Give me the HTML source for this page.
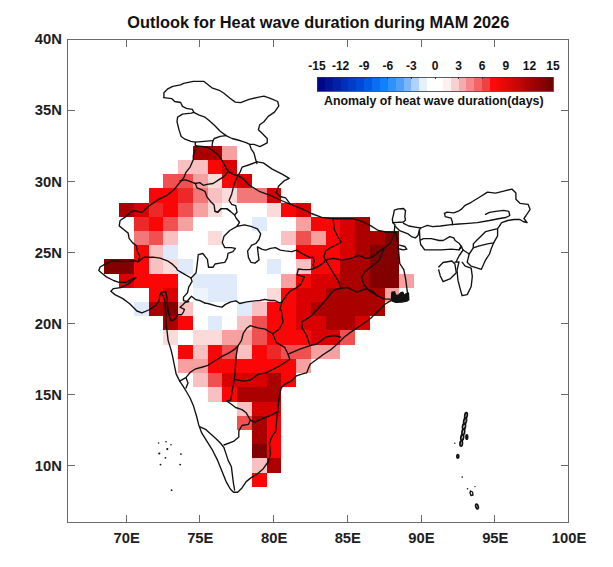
<!DOCTYPE html>
<html><head><meta charset="utf-8"><style>
html,body{margin:0;padding:0;background:#fff;}
body{width:613px;height:567px;overflow:hidden;}
svg{display:block;}
</style></head><body>
<svg width="613" height="567" viewBox="0 0 613 567">
<defs><filter id="sb" x="-2%" y="-2%" width="104%" height="104%"><feGaussianBlur stdDeviation="0.45"/></filter></defs>
<rect width="613" height="567" fill="#fff"/>
<g>
<g shape-rendering="crispEdges">
<rect x="192.95" y="145.77" width="14.75" height="14.21" fill="#aa0000"/>
<rect x="207.70" y="145.77" width="14.75" height="14.21" fill="#aa0000"/>
<rect x="222.44" y="145.77" width="14.75" height="14.21" fill="#f6a0a0"/>
<rect x="178.20" y="159.97" width="14.75" height="14.21" fill="#f8c0c0"/>
<rect x="192.95" y="159.97" width="14.75" height="14.21" fill="#f8c0c0"/>
<rect x="207.70" y="159.97" width="14.75" height="14.21" fill="#fa0606"/>
<rect x="222.44" y="159.97" width="14.75" height="14.21" fill="#d80000"/>
<rect x="163.46" y="174.18" width="14.75" height="14.21" fill="#f05050"/>
<rect x="178.20" y="174.18" width="14.75" height="14.21" fill="#f05050"/>
<rect x="192.95" y="174.18" width="14.75" height="14.21" fill="#f6a0a0"/>
<rect x="207.70" y="174.18" width="14.75" height="14.21" fill="#fbdada"/>
<rect x="222.44" y="174.18" width="14.75" height="14.21" fill="#fa0606"/>
<rect x="237.19" y="174.18" width="14.75" height="14.21" fill="#d80000"/>
<rect x="148.71" y="188.39" width="14.75" height="14.21" fill="#fa0606"/>
<rect x="163.46" y="188.39" width="14.75" height="14.21" fill="#fa0606"/>
<rect x="178.20" y="188.39" width="14.75" height="14.21" fill="#ee2828"/>
<rect x="192.95" y="188.39" width="14.75" height="14.21" fill="#f27878"/>
<rect x="207.70" y="188.39" width="14.75" height="14.21" fill="#f8c0c0"/>
<rect x="222.44" y="188.39" width="14.75" height="14.21" fill="#fbdada"/>
<rect x="237.19" y="188.39" width="14.75" height="14.21" fill="#f27878"/>
<rect x="251.94" y="188.39" width="14.75" height="14.21" fill="#f27878"/>
<rect x="266.69" y="188.39" width="14.75" height="14.21" fill="#d80000"/>
<rect x="119.21" y="202.60" width="14.75" height="14.21" fill="#aa0000"/>
<rect x="133.96" y="202.60" width="14.75" height="14.21" fill="#d80000"/>
<rect x="148.71" y="202.60" width="14.75" height="14.21" fill="#ee2828"/>
<rect x="163.46" y="202.60" width="14.75" height="14.21" fill="#fa0606"/>
<rect x="178.20" y="202.60" width="14.75" height="14.21" fill="#f05050"/>
<rect x="192.95" y="202.60" width="14.75" height="14.21" fill="#f6a0a0"/>
<rect x="207.70" y="202.60" width="14.75" height="14.21" fill="#fbdada"/>
<rect x="266.69" y="202.60" width="14.75" height="14.21" fill="#fbdada"/>
<rect x="281.43" y="202.60" width="14.75" height="14.21" fill="#fa0606"/>
<rect x="296.18" y="202.60" width="14.75" height="14.21" fill="#d80000"/>
<rect x="133.96" y="216.81" width="14.75" height="14.21" fill="#ee2828"/>
<rect x="148.71" y="216.81" width="14.75" height="14.21" fill="#fa0606"/>
<rect x="163.46" y="216.81" width="14.75" height="14.21" fill="#f05050"/>
<rect x="178.20" y="216.81" width="14.75" height="14.21" fill="#f6a0a0"/>
<rect x="251.94" y="216.81" width="14.75" height="14.21" fill="#dfeafa"/>
<rect x="296.18" y="216.81" width="14.75" height="14.21" fill="#f6a0a0"/>
<rect x="310.93" y="216.81" width="14.75" height="14.21" fill="#fa0606"/>
<rect x="325.67" y="216.81" width="14.75" height="14.21" fill="#fa0606"/>
<rect x="340.42" y="216.81" width="14.75" height="14.21" fill="#d80000"/>
<rect x="355.17" y="216.81" width="14.75" height="14.21" fill="#aa0000"/>
<rect x="133.96" y="231.02" width="14.75" height="14.21" fill="#f27878"/>
<rect x="148.71" y="231.02" width="14.75" height="14.21" fill="#f05050"/>
<rect x="163.46" y="231.02" width="14.75" height="14.21" fill="#f8c0c0"/>
<rect x="207.70" y="231.02" width="14.75" height="14.21" fill="#fbdada"/>
<rect x="281.43" y="231.02" width="14.75" height="14.21" fill="#f8c0c0"/>
<rect x="296.18" y="231.02" width="14.75" height="14.21" fill="#f05050"/>
<rect x="310.93" y="231.02" width="14.75" height="14.21" fill="#f6a0a0"/>
<rect x="325.67" y="231.02" width="14.75" height="14.21" fill="#fa0606"/>
<rect x="340.42" y="231.02" width="14.75" height="14.21" fill="#d80000"/>
<rect x="355.17" y="231.02" width="14.75" height="14.21" fill="#aa0000"/>
<rect x="369.91" y="231.02" width="14.75" height="14.21" fill="#aa0000"/>
<rect x="384.66" y="231.02" width="14.75" height="14.21" fill="#820000"/>
<rect x="133.96" y="245.23" width="14.75" height="14.21" fill="#fa0606"/>
<rect x="148.71" y="245.23" width="14.75" height="14.21" fill="#f8c0c0"/>
<rect x="163.46" y="245.23" width="14.75" height="14.21" fill="#dfeafa"/>
<rect x="296.18" y="245.23" width="14.75" height="14.21" fill="#fa0606"/>
<rect x="310.93" y="245.23" width="14.75" height="14.21" fill="#fa0606"/>
<rect x="325.67" y="245.23" width="14.75" height="14.21" fill="#fa0606"/>
<rect x="340.42" y="245.23" width="14.75" height="14.21" fill="#d80000"/>
<rect x="355.17" y="245.23" width="14.75" height="14.21" fill="#aa0000"/>
<rect x="369.91" y="245.23" width="14.75" height="14.21" fill="#820000"/>
<rect x="384.66" y="245.23" width="14.75" height="14.21" fill="#820000"/>
<rect x="104.47" y="259.44" width="14.75" height="14.21" fill="#820000"/>
<rect x="119.21" y="259.44" width="14.75" height="14.21" fill="#820000"/>
<rect x="133.96" y="259.44" width="14.75" height="14.21" fill="#fa0606"/>
<rect x="148.71" y="259.44" width="14.75" height="14.21" fill="#f8c0c0"/>
<rect x="163.46" y="259.44" width="14.75" height="14.21" fill="#fbdada"/>
<rect x="178.20" y="259.44" width="14.75" height="14.21" fill="#dfeafa"/>
<rect x="266.69" y="259.44" width="14.75" height="14.21" fill="#dfeafa"/>
<rect x="296.18" y="259.44" width="14.75" height="14.21" fill="#f8c0c0"/>
<rect x="310.93" y="259.44" width="14.75" height="14.21" fill="#fa0606"/>
<rect x="325.67" y="259.44" width="14.75" height="14.21" fill="#fa0606"/>
<rect x="340.42" y="259.44" width="14.75" height="14.21" fill="#aa0000"/>
<rect x="355.17" y="259.44" width="14.75" height="14.21" fill="#aa0000"/>
<rect x="369.91" y="259.44" width="14.75" height="14.21" fill="#820000"/>
<rect x="384.66" y="259.44" width="14.75" height="14.21" fill="#820000"/>
<rect x="119.21" y="273.65" width="14.75" height="14.21" fill="#d80000"/>
<rect x="133.96" y="273.65" width="14.75" height="14.21" fill="#fa0606"/>
<rect x="148.71" y="273.65" width="14.75" height="14.21" fill="#fa0606"/>
<rect x="163.46" y="273.65" width="14.75" height="14.21" fill="#fa0606"/>
<rect x="192.95" y="273.65" width="14.75" height="14.21" fill="#dfeafa"/>
<rect x="207.70" y="273.65" width="14.75" height="14.21" fill="#dfeafa"/>
<rect x="222.44" y="273.65" width="14.75" height="14.21" fill="#dfeafa"/>
<rect x="281.43" y="273.65" width="14.75" height="14.21" fill="#f6a0a0"/>
<rect x="296.18" y="273.65" width="14.75" height="14.21" fill="#fa0606"/>
<rect x="310.93" y="273.65" width="14.75" height="14.21" fill="#d80000"/>
<rect x="325.67" y="273.65" width="14.75" height="14.21" fill="#d80000"/>
<rect x="340.42" y="273.65" width="14.75" height="14.21" fill="#aa0000"/>
<rect x="355.17" y="273.65" width="14.75" height="14.21" fill="#aa0000"/>
<rect x="369.91" y="273.65" width="14.75" height="14.21" fill="#820000"/>
<rect x="384.66" y="273.65" width="14.75" height="14.21" fill="#820000"/>
<rect x="399.41" y="273.65" width="14.75" height="14.21" fill="#f6a0a0"/>
<rect x="148.71" y="287.85" width="14.75" height="14.21" fill="#fa0606"/>
<rect x="163.46" y="287.85" width="14.75" height="14.21" fill="#d80000"/>
<rect x="192.95" y="287.85" width="14.75" height="14.21" fill="#eef4fc"/>
<rect x="207.70" y="287.85" width="14.75" height="14.21" fill="#dfeafa"/>
<rect x="222.44" y="287.85" width="14.75" height="14.21" fill="#dfeafa"/>
<rect x="266.69" y="287.85" width="14.75" height="14.21" fill="#fbdada"/>
<rect x="281.43" y="287.85" width="14.75" height="14.21" fill="#fa0606"/>
<rect x="296.18" y="287.85" width="14.75" height="14.21" fill="#d80000"/>
<rect x="310.93" y="287.85" width="14.75" height="14.21" fill="#d80000"/>
<rect x="325.67" y="287.85" width="14.75" height="14.21" fill="#aa0000"/>
<rect x="340.42" y="287.85" width="14.75" height="14.21" fill="#aa0000"/>
<rect x="355.17" y="287.85" width="14.75" height="14.21" fill="#aa0000"/>
<rect x="369.91" y="287.85" width="14.75" height="14.21" fill="#aa0000"/>
<rect x="384.66" y="287.85" width="14.75" height="14.21" fill="#f6a0a0"/>
<rect x="133.96" y="302.06" width="14.75" height="14.21" fill="#dfeafa"/>
<rect x="148.71" y="302.06" width="14.75" height="14.21" fill="#aa0000"/>
<rect x="163.46" y="302.06" width="14.75" height="14.21" fill="#820000"/>
<rect x="178.20" y="302.06" width="14.75" height="14.21" fill="#f8c0c0"/>
<rect x="237.19" y="302.06" width="14.75" height="14.21" fill="#dfeafa"/>
<rect x="251.94" y="302.06" width="14.75" height="14.21" fill="#f8c0c0"/>
<rect x="266.69" y="302.06" width="14.75" height="14.21" fill="#fa0606"/>
<rect x="281.43" y="302.06" width="14.75" height="14.21" fill="#fa0606"/>
<rect x="296.18" y="302.06" width="14.75" height="14.21" fill="#d80000"/>
<rect x="310.93" y="302.06" width="14.75" height="14.21" fill="#aa0000"/>
<rect x="325.67" y="302.06" width="14.75" height="14.21" fill="#aa0000"/>
<rect x="340.42" y="302.06" width="14.75" height="14.21" fill="#aa0000"/>
<rect x="355.17" y="302.06" width="14.75" height="14.21" fill="#aa0000"/>
<rect x="369.91" y="302.06" width="14.75" height="14.21" fill="#aa0000"/>
<rect x="163.46" y="316.27" width="14.75" height="14.21" fill="#aa0000"/>
<rect x="178.20" y="316.27" width="14.75" height="14.21" fill="#fa0606"/>
<rect x="207.70" y="316.27" width="14.75" height="14.21" fill="#dfeafa"/>
<rect x="237.19" y="316.27" width="14.75" height="14.21" fill="#f8c0c0"/>
<rect x="251.94" y="316.27" width="14.75" height="14.21" fill="#f05050"/>
<rect x="266.69" y="316.27" width="14.75" height="14.21" fill="#fa0606"/>
<rect x="281.43" y="316.27" width="14.75" height="14.21" fill="#fa0606"/>
<rect x="296.18" y="316.27" width="14.75" height="14.21" fill="#d80000"/>
<rect x="310.93" y="316.27" width="14.75" height="14.21" fill="#d80000"/>
<rect x="325.67" y="316.27" width="14.75" height="14.21" fill="#aa0000"/>
<rect x="340.42" y="316.27" width="14.75" height="14.21" fill="#aa0000"/>
<rect x="355.17" y="316.27" width="14.75" height="14.21" fill="#d80000"/>
<rect x="163.46" y="330.48" width="14.75" height="14.21" fill="#fbdada"/>
<rect x="192.95" y="330.48" width="14.75" height="14.21" fill="#fbdada"/>
<rect x="207.70" y="330.48" width="14.75" height="14.21" fill="#fbdada"/>
<rect x="222.44" y="330.48" width="14.75" height="14.21" fill="#f6a0a0"/>
<rect x="237.19" y="330.48" width="14.75" height="14.21" fill="#f6a0a0"/>
<rect x="251.94" y="330.48" width="14.75" height="14.21" fill="#f05050"/>
<rect x="266.69" y="330.48" width="14.75" height="14.21" fill="#fa0606"/>
<rect x="281.43" y="330.48" width="14.75" height="14.21" fill="#fa0606"/>
<rect x="296.18" y="330.48" width="14.75" height="14.21" fill="#fa0606"/>
<rect x="310.93" y="330.48" width="14.75" height="14.21" fill="#d80000"/>
<rect x="325.67" y="330.48" width="14.75" height="14.21" fill="#d80000"/>
<rect x="340.42" y="330.48" width="14.75" height="14.21" fill="#f05050"/>
<rect x="178.20" y="344.69" width="14.75" height="14.21" fill="#fa0606"/>
<rect x="192.95" y="344.69" width="14.75" height="14.21" fill="#f8c0c0"/>
<rect x="207.70" y="344.69" width="14.75" height="14.21" fill="#fa0606"/>
<rect x="222.44" y="344.69" width="14.75" height="14.21" fill="#f05050"/>
<rect x="237.19" y="344.69" width="14.75" height="14.21" fill="#f8c0c0"/>
<rect x="251.94" y="344.69" width="14.75" height="14.21" fill="#fa0606"/>
<rect x="266.69" y="344.69" width="14.75" height="14.21" fill="#ee2828"/>
<rect x="281.43" y="344.69" width="14.75" height="14.21" fill="#f05050"/>
<rect x="296.18" y="344.69" width="14.75" height="14.21" fill="#f05050"/>
<rect x="310.93" y="344.69" width="14.75" height="14.21" fill="#f6a0a0"/>
<rect x="325.67" y="344.69" width="14.75" height="14.21" fill="#f6a0a0"/>
<rect x="178.20" y="358.90" width="14.75" height="14.21" fill="#f6a0a0"/>
<rect x="192.95" y="358.90" width="14.75" height="14.21" fill="#f6a0a0"/>
<rect x="207.70" y="358.90" width="14.75" height="14.21" fill="#fa0606"/>
<rect x="222.44" y="358.90" width="14.75" height="14.21" fill="#fa0606"/>
<rect x="237.19" y="358.90" width="14.75" height="14.21" fill="#fa0606"/>
<rect x="251.94" y="358.90" width="14.75" height="14.21" fill="#fa0606"/>
<rect x="266.69" y="358.90" width="14.75" height="14.21" fill="#fa0606"/>
<rect x="281.43" y="358.90" width="14.75" height="14.21" fill="#fa0606"/>
<rect x="296.18" y="358.90" width="14.75" height="14.21" fill="#f6a0a0"/>
<rect x="192.95" y="373.11" width="14.75" height="14.21" fill="#f8c0c0"/>
<rect x="207.70" y="373.11" width="14.75" height="14.21" fill="#f05050"/>
<rect x="222.44" y="373.11" width="14.75" height="14.21" fill="#d80000"/>
<rect x="237.19" y="373.11" width="14.75" height="14.21" fill="#d80000"/>
<rect x="251.94" y="373.11" width="14.75" height="14.21" fill="#d80000"/>
<rect x="266.69" y="373.11" width="14.75" height="14.21" fill="#aa0000"/>
<rect x="281.43" y="373.11" width="14.75" height="14.21" fill="#fa0606"/>
<rect x="207.70" y="387.32" width="14.75" height="14.21" fill="#f8c0c0"/>
<rect x="222.44" y="387.32" width="14.75" height="14.21" fill="#fa0606"/>
<rect x="237.19" y="387.32" width="14.75" height="14.21" fill="#aa0000"/>
<rect x="251.94" y="387.32" width="14.75" height="14.21" fill="#aa0000"/>
<rect x="266.69" y="387.32" width="14.75" height="14.21" fill="#aa0000"/>
<rect x="237.19" y="401.52" width="14.75" height="14.21" fill="#f8c0c0"/>
<rect x="251.94" y="401.52" width="14.75" height="14.21" fill="#d80000"/>
<rect x="266.69" y="401.52" width="14.75" height="14.21" fill="#d80000"/>
<rect x="237.19" y="415.73" width="14.75" height="14.21" fill="#f05050"/>
<rect x="251.94" y="415.73" width="14.75" height="14.21" fill="#aa0000"/>
<rect x="266.69" y="415.73" width="14.75" height="14.21" fill="#fa0606"/>
<rect x="251.94" y="429.94" width="14.75" height="14.21" fill="#aa0000"/>
<rect x="266.69" y="429.94" width="14.75" height="14.21" fill="#fa0606"/>
<rect x="251.94" y="444.15" width="14.75" height="14.21" fill="#820000"/>
<rect x="266.69" y="444.15" width="14.75" height="14.21" fill="#fa0606"/>
<rect x="251.94" y="458.36" width="14.75" height="14.21" fill="#f8c0c0"/>
<rect x="266.69" y="458.36" width="14.75" height="14.21" fill="#aa0000"/>
<rect x="251.94" y="472.57" width="14.75" height="14.21" fill="#fa0606"/>
</g>
<g fill="none" stroke="#111" stroke-width="1.35" stroke-linejoin="round" stroke-linecap="round">
<path d="M163.9,97.6 L163.9,92.7 L167.8,88.8 L172.7,86.3 L180.6,84.9 L183.5,83.4 L193.3,81.4 L204.0,81.4 L211.9,87.8 L220.0,90.7 L223.6,93.0 L230.0,98.3 L235.3,102.1 L240.6,102.6 L249.1,99.4 L257.6,97.3 L263.9,96.2 L270.3,98.3 L277.7,101.5 L278.8,105.8 L274.5,112.1 L268.2,116.4 L263.9,121.7 L259.7,124.8 L258.4,129.7 L261.3,132.6 L267.2,138.5 L267.2,142.9 L259.9,146.6 L254.0,144.4 L249.6,144.4"/>
<path d="M163.9,97.6 L171.7,98.6 L174.7,101.5 L180.6,102.5 L182.5,106.4 L186.4,108.3 L192.3,109.3 L193.8,112.3 L191.3,113.2 L182.5,114.2 L177.6,117.2 L177.0,121.7 L179.1,130.1 L181.2,136.5 L185.0,139.2 L190.9,141.4 L195.3,142.2 L195.3,145.8"/>
<path d="M193.8,112.3 L199.2,115.2 L205.0,117.2 L208.5,120.1 L214.4,125.3 L220.2,131.2 L226.1,135.6 L232.0,138.5 L237.9,140.0 L242.3,141.4 L246.7,142.9 L249.6,144.4 L251.1,148.8 L254.0,153.2 L255.5,159.0 L256.9,163.5"/>
<path d="M226.1,135.6 L220.2,136.3 L214.4,138.5 L212.9,140.7 L212.2,144.4 L212.2,146.6"/>
<path d="M195.3,142.2 L212.9,140.7"/>
<path d="M196.5,145.9 L193.3,155.4 L193.3,159.7 L190.1,167.1 L185.9,172.4 L183.8,177.7 L178.5,184.1 L174.2,189.4 L166.8,195.4 L157.8,199.9 L148.8,206.1 L141.7,212.4 L134.5,210.6 L130.0,212.4 L125.5,216.9 L120.1,220.5 L119.2,225.9 L123.7,229.5 L128.2,233.1 L129.1,238.4 L132.7,242.9 L136.3,245.6 L137.2,251.0 L139.9,256.4 L138.1,261.8 L135.1,260.8"/>
<path d="M135.1,260.8 L124.3,261.7 L111.7,260.8 L104.6,264.4 L100.1,267.0 L98.8,270.6 L101.9,273.3 L106.4,276.9 L113.5,280.5 L118.9,282.3 L126.1,282.3 L132.4,278.7 L136.0,277.8 L127.9,284.1 L120.7,287.7 L113.5,288.6 L110.8,291.3 L115.3,294.9 L122.5,298.4 L129.7,303.8 L136.9,311.0 L141.9,312.8 L148.7,310.0 L155.6,305.4 L159.0,300.8 L159.6,296.3 L161.3,292.3 L165.8,291.7 L167.0,298.5 L167.6,307.6 L169.4,316.5 L171.2,320.9 L173.8,320.0 L176.5,316.5 L178.2,314.7 L181.7,314.7 L183.5,312.0 L184.4,309.4 L180.0,307.2 L182.6,305.0 L185.3,302.3 L188.8,301.5"/>
<path d="M161.5,293.5 L163.5,297.0 L165.0,300.6 L165.4,307.6 L165.9,316.5 L166.3,325.3 L167.2,332.3 L168.1,340.0"/>
<path d="M138.1,261.8 L144.0,257.2 L153.0,257.2 L160.2,258.1 L167.4,260.8 L172.7,264.4 L176.3,267.9 L177.3,270.0 L183.0,273.4 L191.0,278.0 L192.1,281.4 L188.7,287.1 L187.5,292.8 L183.5,297.1 L183.5,300.6 L187.0,301.5 L191.4,296.2 L195.9,299.7 L200.0,300.6 L205.0,303.1"/>
<path d="M196.5,145.9 L207.1,147.0 L212.4,150.1 L218.8,155.4 L223.0,161.8 L226.2,168.2 L228.3,171.4 L233.6,174.5 L237.9,175.6"/>
<path d="M180.0,180.8 L185.4,179.9 L190.8,181.7 L195.3,183.5 L199.7,182.6 L203.3,185.3 L206.9,184.4 L213.2,183.5 L218.6,179.9 L223.1,177.2 L226.7,173.6 L228.4,170.0"/>
<path d="M195.3,183.5 L197.0,187.9 L201.5,189.7 L205.1,191.5 L206.9,196.9 L210.5,201.4 L214.1,205.0 L215.0,211.3 L217.7,212.2 L221.3,208.6 L226.7,208.6 L230.2,211.3"/>
<path d="M257.0,161.8 L263.3,162.9 L272.2,169.1 L282.6,174.4 L289.2,178.3 L284.0,180.9 L278.7,186.1 L276.1,192.6 L280.0,196.5 L285.6,197.9 L290.5,204.4"/>
<path d="M257.0,161.8 L248.5,165.0 L242.1,167.1 L240.0,172.4 L237.9,175.6"/>
<path d="M237.9,175.6 L243.2,178.8 L248.7,184.8 L259.2,191.3 L269.6,195.2 L281.3,200.5 L290.5,204.4 L300.9,208.3 L311.4,213.5 L321.8,217.4 L332.2,218.7 L342.7,218.7 L353.1,218.7 L362.6,221.6 L370.5,225.6 L378.3,230.5 L386.0,232.0 L395.9,232.4"/>
<path d="M237.9,175.6 L234.4,183.5 L231.7,193.9 L229.1,200.5 L231.7,204.4 L235.7,205.7 L237.0,212.2 L234.6,215.0 L236.2,218.3 L239.5,222.3 L237.0,226.4 L244.4,224.8 L250.9,226.4 L257.4,228.9 L260.7,233.8 L259.0,239.5 L255.8,243.5 L251.7,245.2 L250.1,247.6 L247.6,250.9 L248.4,257.4 L250.9,262.3 L255.0,263.1 L259.0,259.9 L258.2,254.2 L257.4,246.8 L262.3,249.3 L265.6,250.1 L270.5,248.4 L275.4,247.6 L280.3,250.1 L285.1,250.9 L291.7,251.7 L296.6,250.1 L303.1,254.2 L309.6,257.4 L313.1,257.3 L314.3,261.0 L313.1,264.7 L314.3,268.4 L319.3,265.9 L324.2,262.2 L325.5,260.0"/>
<path d="M333.0,218.0 L333.7,224.0 L334.5,230.0 L337.5,236.0 L341.2,242.0 L336.0,245.0 L330.0,248.0 L325.5,251.0 L324.0,257.0 L325.5,260.0"/>
<path d="M325.5,260.0 L333.0,258.4 L342.0,260.0 L351.0,258.4 L358.4,255.4 L366.0,258.4 L372.0,257.0 L378.0,252.5 L384.0,248.0 L390.0,243.5 L393.0,237.5 L394.4,231.5"/>
<path d="M395.9,232.4 L397.9,244.2 L399.8,263.7 L403.8,269.6 L405.7,279.4 L406.7,287.2 L407.7,295.0"/>
<path d="M394.3,210.1 L398.2,208.8 L403.5,208.5 L405.5,210.8 L404.8,216.7 L405.5,220.0 L403.5,222.0 L392.9,222.7 L392.3,219.4 L393.6,214.1 L394.3,210.1"/>
<path d="M392.9,222.7 L394.9,224.7 L394.3,231.3 L395.9,232.4"/>
<path d="M403.5,223.3 L408.8,226.0 L416.7,227.3 L420.7,228.0 L427.3,225.3 L432.6,226.7 L440.5,226.0 L451.1,224.7 L459.0,224.0 L465.2,223.6 L477.3,222.6 L489.5,220.5 L499.7,218.5 L505.8,217.5 L509.8,215.5 L508.8,211.4 L503.7,210.4 L495.6,211.4 L489.5,212.4 L485.5,214.4"/>
<path d="M394.9,226.0 L399.5,230.6 L404.8,232.6 L408.1,233.9 L411.4,236.6 L415.4,237.9 L418.1,235.2 L419.4,230.0 L420.7,228.0"/>
<path d="M399.5,245.2 L404.8,246.5 L406.8,249.1 L403.5,249.8 L399.5,249.0"/>
<path d="M419.4,230.0 L420.0,240.5 L420.7,244.5 L424.7,249.8 L432.6,249.8 L441.9,249.8 L451.1,249.1 L459.0,249.8 L461.7,247.1 L459.0,243.2 L455.1,240.5 L453.8,237.9 L449.8,236.6 L443.2,240.5 L439.2,240.5 L431.3,238.6 L423.3,238.6 L420.0,240.5"/>
<path d="M444.5,213.4 L447.1,212.1 L453.8,212.8 L459.0,210.8 L461.1,209.4 L465.2,205.3 L471.2,202.3 L479.4,197.2 L487.5,192.1 L495.6,193.1 L503.7,191.1 L511.9,189.1 L515.9,193.1 L515.9,199.2 L520.0,203.3 L528.1,204.3 L530.1,209.4 L526.1,215.5 L524.0,218.5 L527.1,222.6 L523.0,221.5 L520.0,219.5 L513.9,219.5 L507.8,220.5 L501.7,222.6 L499.7,225.6"/>
<path d="M444.5,213.4 L445.2,216.7 L451.1,218.1 L452.4,222.0 L452.4,224.7"/>
<path d="M499.7,225.6 L497.6,228.7 L493.6,229.7 L485.5,231.7 L481.4,235.8 L477.3,239.8 L473.3,243.9 L473.3,247.9 L479.4,245.9 L487.5,243.9 L493.6,242.9 L497.6,235.8 L497.6,228.7"/>
<path d="M473.3,247.9 L469.2,254.0 L467.2,262.2 L471.2,266.2 L481.4,269.3 L485.5,260.1 L489.5,254.0 L491.5,247.9 L493.6,242.9"/>
<path d="M462.1,262.2 L465.2,266.2 L471.2,268.2 L472.3,276.4 L471.2,286.5 L467.2,294.6 L462.1,295.7 L460.1,288.6 L458.0,280.4 L457.0,270.3 L459.0,262.0 L455.0,262.2"/>
<path d="M459.0,249.8 L461.1,246.0 L463.1,250.0 L459.0,256.0 L456.0,262.0"/>
<path d="M438.7,266.9 L443.1,262.5 L451.9,261.0 L454.9,264.0 L456.3,272.8 L450.5,278.6 L443.1,281.6 L440.2,275.7 L438.7,269.8"/>
<path d="M463.1,250.0 L469.2,254.0"/>
<path d="M325.5,260.0 L330.0,267.4 L334.5,275.0 L339.0,282.4 L340.5,288.4 L347.6,287.7 L356.8,292.2 L365.9,288.8 L372.8,291.1 L377.3,295.7 L384.2,299.1 L393.3,299.1"/>
<path d="M384.0,248.0 L379.4,260.0 L372.0,266.0 L364.4,272.0 L361.4,278.0 L364.4,285.4 L370.4,291.4 L377.3,295.7"/>
<path d="M340.5,288.4 L333.9,290.0 L327.1,298.2 L316.9,310.1 L310.1,316.8 L301.6,321.9 L302.5,328.7 L306.7,335.5 L310.1,345.7"/>
<path d="M279.8,310.0 L281.3,310.1 L283.0,321.9 L279.6,328.7 L272.8,333.8 L276.2,342.3 L284.7,347.4 L288.1,354.2 L289.8,359.3 L279.6,366.0 L266.0,372.8"/>
<path d="M288.1,354.2 L299.9,349.1 L310.1,345.7 L316.9,344.0 L325.4,337.2 L333.9,335.5 L340.7,337.2"/>
<path d="M408.2,299.1 L393.3,299.1 L384.2,304.8 L377.3,311.7 L370.5,318.5 L361.0,325.3 L350.8,332.1 L344.0,337.2 L337.3,344.0 L330.5,349.9 L323.7,354.2 L316.9,359.3 L310.1,364.3 L306.7,372.8 L301.6,374.1 L296.5,375.8 L291.4,380.9 L284.7,384.3 L281.3,387.7 L279.6,394.5 L278.7,401.3 L277.9,409.7 L277.0,416.0 L275.8,430.8 L271.6,437.1 L269.5,443.5 L270.5,454.1 L268.4,461.5 L263.1,468.9 L256.8,474.2 L251.5,477.4 L246.2,481.6 L242.0,487.9 L237.7,492.2 L233.5,492.2 L230.3,489.0 L226.1,481.6 L221.9,471.0 L217.6,460.4 L212.3,449.8 L207.0,441.4 L201.7,432.9 L198.6,424.4 L196.5,416.0 L193.3,405.4 L190.1,398.0 L186.9,392.5 L183.2,386.4 L179.7,381.1 L176.2,374.1 L174.4,365.3 L172.6,356.4 L170.9,349.4 L168.2,340.6"/>
<path d="M179.7,381.1 L185.9,377.6 L190.3,372.3 L195.6,368.8 L202.6,367.0 L207.9,365.3 L215.0,360.8 L222.0,356.4 L229.1,352.9 L234.4,349.4 L237.9,345.9 L241.4,340.6 L243.2,333.5 L246.7,328.2 L250.2,325.6 L257.9,327.9 L265.2,329.1 L272.8,333.8"/>
<path d="M185.9,377.6 L188.0,383.0 L186.0,388.0"/>
<path d="M237.9,345.9 L236.1,356.4 L235.2,370.5 L234.4,379.4 L232.6,388.2 L230.8,400.0 L227.1,401.2"/>
<path d="M234.4,379.4 L243.2,381.1 L250.2,380.2 L257.9,374.4 L266.0,372.8"/>
<path d="M227.1,401.2 L231.4,404.3 L235.6,407.5 L242.0,409.6 L246.2,412.8 L250.4,420.2 L254.7,422.3 L261.0,419.2 L269.5,416.0 L277.9,411.7"/>
<path d="M250.4,420.2 L248.3,424.4 L242.0,425.5 L238.8,430.8 L238.8,437.1 L233.5,441.4 L224.0,445.0"/>
<path d="M199.6,426.6 L206.0,429.7 L216.6,439.3 L220.8,443.5 L224.0,447.7 L226.1,454.1 L228.2,460.4 L231.4,466.8 L232.4,475.2 L233.5,483.7 L234.6,490.0"/>
<path d="M470.5,491.0 L472.5,492.0 L473.0,495.0 L471.0,495.5 L470.0,493.0 L470.5,491.0"/>
<path d="M237.0,226.4 L229.7,230.5 L224.0,236.2 L222.3,242.7 L224.8,247.6 L231.3,247.6 L235.4,248.4 L232.9,251.7 L228.0,253.3 L227.2,258.2 L224.8,262.3 L219.9,263.1 L215.0,264.0 L213.1,267.2 L208.5,267.2 L207.4,259.3 L202.8,253.5 L198.3,254.7 L197.1,265.0 L196.0,273.0 L191.0,278.0"/>
<path d="M314.3,268.4 L309.4,269.6 L303.2,269.6 L298.3,269.0 L297.0,274.6 L300.7,275.8 L304.4,277.0 L300.7,284.4 L295.8,288.1 L290.9,290.6 L287.2,294.3 L284.7,298.0 L282.2,301.7 L281.0,305.4 L279.8,310.0"/>
<path d="M205.0,303.1 L207.9,303.5 L216.7,306.2 L222.0,307.1 L225.5,304.4 L230.8,301.8 L236.1,300.9 L239.7,303.5 L246.7,301.8 L255.0,300.9 L260.0,300.5 L264.9,299.3 L269.9,300.5 L274.8,300.5 L279.8,303.0 L282.2,301.7"/>
<path d="M215.0,211.3 L217.7,212.2 L221.3,208.6 L226.7,208.6 L230.2,211.3 L234.6,215.0"/>
<circle cx="158.6" cy="443" r="0.8" fill="#111" stroke="none"/>
<circle cx="166" cy="441.7" r="0.8" fill="#111" stroke="none"/>
<circle cx="171" cy="444.8" r="0.8" fill="#111" stroke="none"/>
<circle cx="167.3" cy="449.1" r="1.1" fill="#111" stroke="none"/>
<circle cx="159.3" cy="453.5" r="1.1" fill="#111" stroke="none"/>
<circle cx="165.4" cy="457.8" r="0.9" fill="#111" stroke="none"/>
<circle cx="180.9" cy="454.1" r="0.9" fill="#111" stroke="none"/>
<circle cx="160.5" cy="464.6" r="0.9" fill="#111" stroke="none"/>
<circle cx="180.2" cy="464.6" r="0.9" fill="#111" stroke="none"/>
<circle cx="171.6" cy="490.2" r="0.9" fill="#111" stroke="none"/>
<circle cx="454.8" cy="443.3" r="0.7" fill="#111" stroke="none"/>
<circle cx="462.2" cy="477.1" r="0.8" fill="#111" stroke="none"/>
<circle cx="467.5" cy="488.7" r="0.8" fill="#111" stroke="none"/>
<circle cx="474.9" cy="486.6" r="0.7" fill="#111" stroke="none"/>
<ellipse cx="466.0" cy="415.5" rx="1.2" ry="2.8" transform="rotate(10 466.0 415.5)" stroke-width="1.8"/>
<ellipse cx="465.1" cy="421.0" rx="1.3" ry="2.8" transform="rotate(12 465.1 421.0)" stroke-width="1.8"/>
<ellipse cx="464.0" cy="426.5" rx="1.4" ry="2.8" transform="rotate(10 464.0 426.5)" stroke-width="1.8"/>
<ellipse cx="463.3" cy="432.0" rx="1.3" ry="2.8" transform="rotate(8 463.3 432.0)" stroke-width="1.8"/>
<ellipse cx="462.2" cy="437.5" rx="1.3" ry="2.8" transform="rotate(10 462.2 437.5)" stroke-width="1.8"/>
<ellipse cx="461.2" cy="443.5" rx="1.2" ry="2.6" transform="rotate(5 461.2 443.5)" stroke-width="1.8"/>
<ellipse cx="466.8" cy="437.0" rx="0.8" ry="2.2" transform="rotate(0 466.8 437.0)" stroke-width="1.8"/>
<ellipse cx="457.8" cy="456.3" rx="1.0" ry="1.7" transform="rotate(0 457.8 456.3)" stroke-width="1.8"/>
<ellipse cx="477.0" cy="506.5" rx="1.2" ry="2.4" transform="rotate(-15 477.0 506.5)" stroke-width="1.8"/>
<path fill="#111" d="M391.9,292.2 L394.7,291.8 L395.4,295.0 L398.2,295.4 L400.9,292.6 L402.9,292.2 L404.1,295.4 L406.0,293.8 L408.4,293.0 L408.8,299.7 L406.8,301.2 L401.7,302.0 L395.8,302.4 L392.7,301.2 L391.5,297.7Z"/>
</g>
</g>
<g shape-rendering="crispEdges">
<rect x="67.5" y="39.5" width="501" height="483" fill="none" stroke="#6a6a6a" stroke-width="1"/>
<line x1="126.5" y1="522" x2="126.5" y2="515" stroke="#6a6a6a" stroke-width="1"/>
<line x1="126.5" y1="40" x2="126.5" y2="47" stroke="#6a6a6a" stroke-width="1"/>
<line x1="199.5" y1="522" x2="199.5" y2="515" stroke="#6a6a6a" stroke-width="1"/>
<line x1="199.5" y1="40" x2="199.5" y2="47" stroke="#6a6a6a" stroke-width="1"/>
<line x1="273.5" y1="522" x2="273.5" y2="515" stroke="#6a6a6a" stroke-width="1"/>
<line x1="273.5" y1="40" x2="273.5" y2="47" stroke="#6a6a6a" stroke-width="1"/>
<line x1="347.5" y1="522" x2="347.5" y2="515" stroke="#6a6a6a" stroke-width="1"/>
<line x1="347.5" y1="40" x2="347.5" y2="47" stroke="#6a6a6a" stroke-width="1"/>
<line x1="421.5" y1="522" x2="421.5" y2="515" stroke="#6a6a6a" stroke-width="1"/>
<line x1="421.5" y1="40" x2="421.5" y2="47" stroke="#6a6a6a" stroke-width="1"/>
<line x1="494.5" y1="522" x2="494.5" y2="515" stroke="#6a6a6a" stroke-width="1"/>
<line x1="494.5" y1="40" x2="494.5" y2="47" stroke="#6a6a6a" stroke-width="1"/>
<line x1="68" y1="465.5" x2="75" y2="465.5" stroke="#6a6a6a" stroke-width="1"/>
<line x1="568" y1="465.5" x2="561" y2="465.5" stroke="#6a6a6a" stroke-width="1"/>
<line x1="68" y1="394.5" x2="75" y2="394.5" stroke="#6a6a6a" stroke-width="1"/>
<line x1="568" y1="394.5" x2="561" y2="394.5" stroke="#6a6a6a" stroke-width="1"/>
<line x1="68" y1="323.5" x2="75" y2="323.5" stroke="#6a6a6a" stroke-width="1"/>
<line x1="568" y1="323.5" x2="561" y2="323.5" stroke="#6a6a6a" stroke-width="1"/>
<line x1="68" y1="252.5" x2="75" y2="252.5" stroke="#6a6a6a" stroke-width="1"/>
<line x1="568" y1="252.5" x2="561" y2="252.5" stroke="#6a6a6a" stroke-width="1"/>
<line x1="68" y1="181.5" x2="75" y2="181.5" stroke="#6a6a6a" stroke-width="1"/>
<line x1="568" y1="181.5" x2="561" y2="181.5" stroke="#6a6a6a" stroke-width="1"/>
<line x1="68" y1="110.5" x2="75" y2="110.5" stroke="#6a6a6a" stroke-width="1"/>
<line x1="568" y1="110.5" x2="561" y2="110.5" stroke="#6a6a6a" stroke-width="1"/>
</g>
<g shape-rendering="crispEdges">
<rect x="317.00" y="77.0" width="2.27" height="14.20" fill="rgb(0, 7, 136)"/>
<rect x="318.97" y="77.0" width="2.27" height="14.20" fill="rgb(0, 7, 136)"/>
<rect x="320.93" y="77.0" width="2.27" height="14.20" fill="rgb(0, 7, 136)"/>
<rect x="322.90" y="77.0" width="2.27" height="14.20" fill="rgb(0, 7, 136)"/>
<rect x="324.87" y="77.0" width="2.27" height="14.20" fill="rgb(0, 20, 152)"/>
<rect x="326.83" y="77.0" width="2.27" height="14.20" fill="rgb(0, 20, 152)"/>
<rect x="328.80" y="77.0" width="2.27" height="14.20" fill="rgb(0, 20, 152)"/>
<rect x="330.77" y="77.0" width="2.27" height="14.20" fill="rgb(0, 20, 152)"/>
<rect x="332.73" y="77.0" width="2.27" height="14.20" fill="rgb(0, 33, 168)"/>
<rect x="334.70" y="77.0" width="2.27" height="14.20" fill="rgb(0, 33, 168)"/>
<rect x="336.67" y="77.0" width="2.27" height="14.20" fill="rgb(0, 33, 168)"/>
<rect x="338.63" y="77.0" width="2.27" height="14.20" fill="rgb(0, 33, 168)"/>
<rect x="340.60" y="77.0" width="2.27" height="14.20" fill="rgb(0, 47, 184)"/>
<rect x="342.57" y="77.0" width="2.27" height="14.20" fill="rgb(0, 47, 184)"/>
<rect x="344.53" y="77.0" width="2.27" height="14.20" fill="rgb(0, 47, 184)"/>
<rect x="346.50" y="77.0" width="2.27" height="14.20" fill="rgb(0, 47, 184)"/>
<rect x="348.47" y="77.0" width="2.27" height="14.20" fill="rgb(0, 60, 200)"/>
<rect x="350.43" y="77.0" width="2.27" height="14.20" fill="rgb(0, 60, 200)"/>
<rect x="352.40" y="77.0" width="2.27" height="14.20" fill="rgb(0, 60, 200)"/>
<rect x="354.37" y="77.0" width="2.27" height="14.20" fill="rgb(0, 60, 200)"/>
<rect x="356.33" y="77.0" width="2.27" height="14.20" fill="rgb(0, 73, 216)"/>
<rect x="358.30" y="77.0" width="2.27" height="14.20" fill="rgb(0, 73, 216)"/>
<rect x="360.27" y="77.0" width="2.27" height="14.20" fill="rgb(0, 73, 216)"/>
<rect x="362.23" y="77.0" width="2.27" height="14.20" fill="rgb(0, 73, 216)"/>
<rect x="364.20" y="77.0" width="2.27" height="14.20" fill="rgb(3, 90, 230)"/>
<rect x="366.17" y="77.0" width="2.27" height="14.20" fill="rgb(3, 90, 230)"/>
<rect x="368.13" y="77.0" width="2.27" height="14.20" fill="rgb(3, 90, 230)"/>
<rect x="370.10" y="77.0" width="2.27" height="14.20" fill="rgb(3, 90, 230)"/>
<rect x="372.07" y="77.0" width="2.27" height="14.20" fill="rgb(10, 109, 243)"/>
<rect x="374.03" y="77.0" width="2.27" height="14.20" fill="rgb(10, 109, 243)"/>
<rect x="376.00" y="77.0" width="2.27" height="14.20" fill="rgb(10, 109, 243)"/>
<rect x="377.97" y="77.0" width="2.27" height="14.20" fill="rgb(10, 109, 243)"/>
<rect x="379.93" y="77.0" width="2.27" height="14.20" fill="rgb(16, 128, 255)"/>
<rect x="381.90" y="77.0" width="2.27" height="14.20" fill="rgb(16, 128, 255)"/>
<rect x="383.87" y="77.0" width="2.27" height="14.20" fill="rgb(16, 128, 255)"/>
<rect x="385.83" y="77.0" width="2.27" height="14.20" fill="rgb(16, 128, 255)"/>
<rect x="387.80" y="77.0" width="2.27" height="14.20" fill="rgb(48, 144, 252)"/>
<rect x="389.77" y="77.0" width="2.27" height="14.20" fill="rgb(48, 144, 252)"/>
<rect x="391.73" y="77.0" width="2.27" height="14.20" fill="rgb(48, 144, 252)"/>
<rect x="393.70" y="77.0" width="2.27" height="14.20" fill="rgb(48, 144, 252)"/>
<rect x="395.67" y="77.0" width="2.27" height="14.20" fill="rgb(80, 160, 249)"/>
<rect x="397.63" y="77.0" width="2.27" height="14.20" fill="rgb(80, 160, 249)"/>
<rect x="399.60" y="77.0" width="2.27" height="14.20" fill="rgb(80, 160, 249)"/>
<rect x="401.57" y="77.0" width="2.27" height="14.20" fill="rgb(80, 160, 249)"/>
<rect x="403.53" y="77.0" width="2.27" height="14.20" fill="rgb(122, 182, 248)"/>
<rect x="405.50" y="77.0" width="2.27" height="14.20" fill="rgb(122, 182, 248)"/>
<rect x="407.47" y="77.0" width="2.27" height="14.20" fill="rgb(122, 182, 248)"/>
<rect x="409.43" y="77.0" width="2.27" height="14.20" fill="rgb(122, 182, 248)"/>
<rect x="411.40" y="77.0" width="2.27" height="14.20" fill="rgb(174, 210, 250)"/>
<rect x="413.37" y="77.0" width="2.27" height="14.20" fill="rgb(174, 210, 250)"/>
<rect x="415.33" y="77.0" width="2.27" height="14.20" fill="rgb(174, 210, 250)"/>
<rect x="417.30" y="77.0" width="2.27" height="14.20" fill="rgb(174, 210, 250)"/>
<rect x="419.27" y="77.0" width="2.27" height="14.20" fill="rgb(228, 240, 252)"/>
<rect x="421.23" y="77.0" width="2.27" height="14.20" fill="rgb(228, 240, 252)"/>
<rect x="423.20" y="77.0" width="2.27" height="14.20" fill="rgb(228, 240, 252)"/>
<rect x="425.17" y="77.0" width="2.27" height="14.20" fill="rgb(228, 240, 252)"/>
<rect x="427.13" y="77.0" width="2.27" height="14.20" fill="rgb(255, 255, 255)"/>
<rect x="429.10" y="77.0" width="2.27" height="14.20" fill="rgb(255, 255, 255)"/>
<rect x="431.07" y="77.0" width="2.27" height="14.20" fill="rgb(255, 255, 255)"/>
<rect x="433.03" y="77.0" width="2.27" height="14.20" fill="rgb(255, 255, 255)"/>
<rect x="435.00" y="77.0" width="2.27" height="14.20" fill="rgb(255, 255, 255)"/>
<rect x="436.97" y="77.0" width="2.27" height="14.20" fill="rgb(255, 255, 255)"/>
<rect x="438.93" y="77.0" width="2.27" height="14.20" fill="rgb(255, 255, 255)"/>
<rect x="440.90" y="77.0" width="2.27" height="14.20" fill="rgb(255, 255, 255)"/>
<rect x="442.87" y="77.0" width="2.27" height="14.20" fill="rgb(253, 240, 240)"/>
<rect x="444.83" y="77.0" width="2.27" height="14.20" fill="rgb(253, 240, 240)"/>
<rect x="446.80" y="77.0" width="2.27" height="14.20" fill="rgb(253, 240, 240)"/>
<rect x="448.77" y="77.0" width="2.27" height="14.20" fill="rgb(253, 240, 240)"/>
<rect x="450.73" y="77.0" width="2.27" height="14.20" fill="rgb(250, 207, 207)"/>
<rect x="452.70" y="77.0" width="2.27" height="14.20" fill="rgb(250, 207, 207)"/>
<rect x="454.67" y="77.0" width="2.27" height="14.20" fill="rgb(250, 207, 207)"/>
<rect x="456.63" y="77.0" width="2.27" height="14.20" fill="rgb(250, 207, 207)"/>
<rect x="458.60" y="77.0" width="2.27" height="14.20" fill="rgb(246, 172, 172)"/>
<rect x="460.57" y="77.0" width="2.27" height="14.20" fill="rgb(246, 172, 172)"/>
<rect x="462.53" y="77.0" width="2.27" height="14.20" fill="rgb(246, 172, 172)"/>
<rect x="464.50" y="77.0" width="2.27" height="14.20" fill="rgb(246, 172, 172)"/>
<rect x="466.47" y="77.0" width="2.27" height="14.20" fill="rgb(244, 137, 137)"/>
<rect x="468.43" y="77.0" width="2.27" height="14.20" fill="rgb(244, 137, 137)"/>
<rect x="470.40" y="77.0" width="2.27" height="14.20" fill="rgb(244, 137, 137)"/>
<rect x="472.37" y="77.0" width="2.27" height="14.20" fill="rgb(244, 137, 137)"/>
<rect x="474.33" y="77.0" width="2.27" height="14.20" fill="rgb(241, 101, 101)"/>
<rect x="476.30" y="77.0" width="2.27" height="14.20" fill="rgb(241, 101, 101)"/>
<rect x="478.27" y="77.0" width="2.27" height="14.20" fill="rgb(241, 101, 101)"/>
<rect x="480.23" y="77.0" width="2.27" height="14.20" fill="rgb(241, 101, 101)"/>
<rect x="482.20" y="77.0" width="2.27" height="14.20" fill="rgb(240, 64, 64)"/>
<rect x="484.17" y="77.0" width="2.27" height="14.20" fill="rgb(240, 64, 64)"/>
<rect x="486.13" y="77.0" width="2.27" height="14.20" fill="rgb(240, 64, 64)"/>
<rect x="488.10" y="77.0" width="2.27" height="14.20" fill="rgb(240, 64, 64)"/>
<rect x="490.07" y="77.0" width="2.27" height="14.20" fill="rgb(255, 10, 10)"/>
<rect x="492.03" y="77.0" width="2.27" height="14.20" fill="rgb(255, 10, 10)"/>
<rect x="494.00" y="77.0" width="2.27" height="14.20" fill="rgb(253, 10, 10)"/>
<rect x="495.97" y="77.0" width="2.27" height="14.20" fill="rgb(248, 10, 10)"/>
<rect x="497.93" y="77.0" width="2.27" height="14.20" fill="rgb(243, 9, 9)"/>
<rect x="499.90" y="77.0" width="2.27" height="14.20" fill="rgb(238, 9, 9)"/>
<rect x="501.87" y="77.0" width="2.27" height="14.20" fill="rgb(233, 8, 8)"/>
<rect x="503.83" y="77.0" width="2.27" height="14.20" fill="rgb(228, 8, 8)"/>
<rect x="505.80" y="77.0" width="2.27" height="14.20" fill="rgb(224, 8, 8)"/>
<rect x="507.77" y="77.0" width="2.27" height="14.20" fill="rgb(219, 8, 8)"/>
<rect x="509.73" y="77.0" width="2.27" height="14.20" fill="rgb(214, 7, 7)"/>
<rect x="511.70" y="77.0" width="2.27" height="14.20" fill="rgb(209, 7, 7)"/>
<rect x="513.67" y="77.0" width="2.27" height="14.20" fill="rgb(204, 6, 6)"/>
<rect x="515.63" y="77.0" width="2.27" height="14.20" fill="rgb(199, 6, 6)"/>
<rect x="517.60" y="77.0" width="2.27" height="14.20" fill="rgb(195, 6, 6)"/>
<rect x="519.57" y="77.0" width="2.27" height="14.20" fill="rgb(190, 6, 6)"/>
<rect x="521.53" y="77.0" width="2.27" height="14.20" fill="rgb(185, 5, 5)"/>
<rect x="523.50" y="77.0" width="2.27" height="14.20" fill="rgb(180, 5, 5)"/>
<rect x="525.47" y="77.0" width="2.27" height="14.20" fill="rgb(175, 4, 4)"/>
<rect x="527.43" y="77.0" width="2.27" height="14.20" fill="rgb(170, 4, 4)"/>
<rect x="529.40" y="77.0" width="2.27" height="14.20" fill="rgb(166, 4, 4)"/>
<rect x="531.37" y="77.0" width="2.27" height="14.20" fill="rgb(161, 4, 4)"/>
<rect x="533.33" y="77.0" width="2.27" height="14.20" fill="rgb(156, 3, 3)"/>
<rect x="535.30" y="77.0" width="2.27" height="14.20" fill="rgb(151, 3, 3)"/>
<rect x="537.27" y="77.0" width="2.27" height="14.20" fill="rgb(146, 2, 2)"/>
<rect x="539.23" y="77.0" width="2.27" height="14.20" fill="rgb(141, 2, 2)"/>
<rect x="541.20" y="77.0" width="2.27" height="14.20" fill="rgb(137, 2, 2)"/>
<rect x="543.17" y="77.0" width="2.27" height="14.20" fill="rgb(132, 2, 2)"/>
<rect x="545.13" y="77.0" width="2.27" height="14.20" fill="rgb(127, 1, 1)"/>
<rect x="547.10" y="77.0" width="2.27" height="14.20" fill="rgb(122, 1, 1)"/>
<rect x="549.07" y="77.0" width="2.27" height="14.20" fill="rgb(117, 0, 0)"/>
<rect x="551.03" y="77.0" width="2.27" height="14.20" fill="rgb(112, 0, 0)"/>
<rect x="317.0" y="77.0" width="236.0" height="14.20" fill="none" stroke="#333" stroke-width="0.8"/>
<line x1="340.6" y1="77.0" x2="340.6" y2="79.0" stroke="#333" stroke-width="1"/>
<line x1="364.2" y1="77.0" x2="364.2" y2="79.0" stroke="#333" stroke-width="1"/>
<line x1="387.8" y1="77.0" x2="387.8" y2="79.0" stroke="#333" stroke-width="1"/>
<line x1="411.4" y1="77.0" x2="411.4" y2="79.0" stroke="#333" stroke-width="1"/>
<line x1="435.0" y1="77.0" x2="435.0" y2="79.0" stroke="#333" stroke-width="1"/>
<line x1="458.6" y1="77.0" x2="458.6" y2="79.0" stroke="#333" stroke-width="1"/>
<line x1="482.2" y1="77.0" x2="482.2" y2="79.0" stroke="#333" stroke-width="1"/>
<line x1="505.8" y1="77.0" x2="505.8" y2="79.0" stroke="#333" stroke-width="1"/>
<line x1="529.4" y1="77.0" x2="529.4" y2="79.0" stroke="#333" stroke-width="1"/>
</g>
<text x="318.3" y="27.5" text-anchor="middle" font-size="16.9" textLength="382" lengthAdjust="spacingAndGlyphs" font-family="&quot;Liberation Sans&quot;, sans-serif" font-weight="bold" fill="#111">Outlook for Heat wave duration during MAM 2026</text>
<text x="62" y="470.7" text-anchor="end" font-size="14.8" font-family="&quot;Liberation Sans&quot;, sans-serif" font-weight="bold" fill="#1e1e1e">10N</text>
<text x="62" y="399.6" text-anchor="end" font-size="14.8" font-family="&quot;Liberation Sans&quot;, sans-serif" font-weight="bold" fill="#1e1e1e">15N</text>
<text x="62" y="328.6" text-anchor="end" font-size="14.8" font-family="&quot;Liberation Sans&quot;, sans-serif" font-weight="bold" fill="#1e1e1e">20N</text>
<text x="62" y="257.5" text-anchor="end" font-size="14.8" font-family="&quot;Liberation Sans&quot;, sans-serif" font-weight="bold" fill="#1e1e1e">25N</text>
<text x="62" y="186.5" text-anchor="end" font-size="14.8" font-family="&quot;Liberation Sans&quot;, sans-serif" font-weight="bold" fill="#1e1e1e">30N</text>
<text x="62" y="115.4" text-anchor="end" font-size="14.8" font-family="&quot;Liberation Sans&quot;, sans-serif" font-weight="bold" fill="#1e1e1e">35N</text>
<text x="62" y="44.4" text-anchor="end" font-size="14.8" font-family="&quot;Liberation Sans&quot;, sans-serif" font-weight="bold" fill="#1e1e1e">40N</text>
<text x="126.6" y="542.8" text-anchor="middle" font-size="14.8" font-family="&quot;Liberation Sans&quot;, sans-serif" font-weight="bold" fill="#1e1e1e">70E</text>
<text x="200.3" y="542.8" text-anchor="middle" font-size="14.8" font-family="&quot;Liberation Sans&quot;, sans-serif" font-weight="bold" fill="#1e1e1e">75E</text>
<text x="274.1" y="542.8" text-anchor="middle" font-size="14.8" font-family="&quot;Liberation Sans&quot;, sans-serif" font-weight="bold" fill="#1e1e1e">80E</text>
<text x="347.8" y="542.8" text-anchor="middle" font-size="14.8" font-family="&quot;Liberation Sans&quot;, sans-serif" font-weight="bold" fill="#1e1e1e">85E</text>
<text x="421.5" y="542.8" text-anchor="middle" font-size="14.8" font-family="&quot;Liberation Sans&quot;, sans-serif" font-weight="bold" fill="#1e1e1e">90E</text>
<text x="495.3" y="542.8" text-anchor="middle" font-size="14.8" font-family="&quot;Liberation Sans&quot;, sans-serif" font-weight="bold" fill="#1e1e1e">95E</text>
<text x="569.0" y="542.8" text-anchor="middle" font-size="14.8" font-family="&quot;Liberation Sans&quot;, sans-serif" font-weight="bold" fill="#1e1e1e">100E</text>
<text x="317.0" y="69.7" text-anchor="middle" font-size="12" font-family="&quot;Liberation Sans&quot;, sans-serif" font-weight="bold" fill="#111">-15</text>
<text x="340.6" y="69.7" text-anchor="middle" font-size="12" font-family="&quot;Liberation Sans&quot;, sans-serif" font-weight="bold" fill="#111">-12</text>
<text x="364.2" y="69.7" text-anchor="middle" font-size="12" font-family="&quot;Liberation Sans&quot;, sans-serif" font-weight="bold" fill="#111">-9</text>
<text x="387.8" y="69.7" text-anchor="middle" font-size="12" font-family="&quot;Liberation Sans&quot;, sans-serif" font-weight="bold" fill="#111">-6</text>
<text x="411.4" y="69.7" text-anchor="middle" font-size="12" font-family="&quot;Liberation Sans&quot;, sans-serif" font-weight="bold" fill="#111">-3</text>
<text x="435.0" y="69.7" text-anchor="middle" font-size="12" font-family="&quot;Liberation Sans&quot;, sans-serif" font-weight="bold" fill="#111">0</text>
<text x="458.6" y="69.7" text-anchor="middle" font-size="12" font-family="&quot;Liberation Sans&quot;, sans-serif" font-weight="bold" fill="#111">3</text>
<text x="482.2" y="69.7" text-anchor="middle" font-size="12" font-family="&quot;Liberation Sans&quot;, sans-serif" font-weight="bold" fill="#111">6</text>
<text x="505.8" y="69.7" text-anchor="middle" font-size="12" font-family="&quot;Liberation Sans&quot;, sans-serif" font-weight="bold" fill="#111">9</text>
<text x="529.4" y="69.7" text-anchor="middle" font-size="12" font-family="&quot;Liberation Sans&quot;, sans-serif" font-weight="bold" fill="#111">12</text>
<text x="553.0" y="69.7" text-anchor="middle" font-size="12" font-family="&quot;Liberation Sans&quot;, sans-serif" font-weight="bold" fill="#111">15</text>
<text x="324" y="104.9" font-size="12.4" font-family="&quot;Liberation Sans&quot;, sans-serif" font-weight="bold" fill="#111">Anomaly of heat wave duration(days)</text>
</svg>
</body></html>
